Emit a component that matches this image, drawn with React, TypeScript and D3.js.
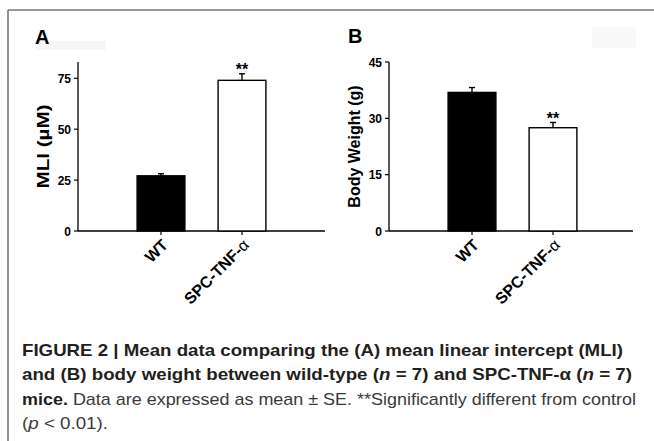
import React from 'react'
import * as d3 from 'd3'

const categories = ['WT', 'SPC-TNF-α']
const mliMeans = [27.1, 74.0]
const mliErrors = [1.0, 3.2]
const mliTicks = [0, 25, 50, 75]
const weightMeans = [36.9, 27.5]
const weightErrors = [1.3, 1.4]
const weightTicks = [0, 15, 30, 45]
const barFills = ['#000', '#fff']
const significant = [false, true]

const FONT = '"Liberation Sans", Arial, Helvetica, sans-serif'

type PanelProps = {
  left: number
  yLabel: string
  yLabelLength?: number
  means: number[]
  errors: number[]
  ticks: number[]
  yMax: number
  plotWidth: number
}

// category label: greek letter drawn in a lighter weight like the original
const catLabel = (c: string) => {
  if (!c.endsWith('α')) return c
  return <>{c.slice(0, -1)}<tspan fontWeight="normal">α</tspan></>
}

const Panel = ({ left, yLabel, yLabelLength, means, errors, ticks, yMax, plotWidth }: PanelProps) => {
  const top = 62
  const bottom = 231
  let y = d3.scaleLinear().domain([0, yMax]).range([bottom, top])
  let x = d3.scaleBand().domain(categories).range([42.5, 204.5]).paddingInner(0.41).paddingOuter(0.205)

  return (
    <g transform={`translate(${left},0)`}>
      <line x1={0} x2={0} y1={top} y2={bottom} stroke="#000" strokeWidth={1.3} />
      <line x1={0} x2={plotWidth} y1={bottom} y2={bottom} stroke="#000" strokeWidth={1.3} />
      {ticks.map(t => (
        <g key={t}>
          <line x1={-4} x2={0} y1={y(t)} y2={y(t)} stroke="#000" strokeWidth={1.2} />
          <text x={-7} y={y(t) + 4.5} textAnchor="end" fontSize={12} fontWeight="bold" fontFamily={FONT}>{t}</text>
        </g>
      ))}
      <text transform={`translate(-29,${(top + bottom) / 2}) rotate(-90)`} textAnchor="middle"
        fontSize={16} fontWeight="bold" fontFamily={FONT}
        textLength={yLabelLength} lengthAdjust={yLabelLength ? 'spacingAndGlyphs' : undefined}>{yLabel}</text>
      {categories.map((c, i) => {
        const bx = x(c) as number
        const cx = bx + x.bandwidth() / 2
        const errTop = y(means[i] + errors[i])
        return (
          <g key={c}>
            <rect x={bx} y={y(means[i])} width={x.bandwidth()} height={bottom - y(means[i])}
              fill={barFills[i]} stroke="#000" strokeWidth={1.4} />
            <line x1={cx} x2={cx} y1={y(means[i])} y2={errTop} stroke="#000" strokeWidth={1.4} />
            <line x1={cx - 3} x2={cx + 3} y1={errTop} y2={errTop} stroke="#000" strokeWidth={1.4} />
            {significant[i] && (
              <text x={cx} y={errTop + 1.5} textAnchor="middle" fontSize={16} fontWeight="bold" fontFamily={FONT}>**</text>
            )}
            <line x1={cx} x2={cx} y1={bottom} y2={bottom + 4} stroke="#000" strokeWidth={1.2} />
            <text transform={`translate(${cx + 8},${bottom + 15}) rotate(-45)`} textAnchor="end"
              fontSize={16} fontWeight="bold" fontFamily={FONT}>{catLabel(c)}</text>
          </g>
        )
      })}
    </g>
  )
}

const App = () => {
  return (
    <svg width={654} height={441} style={{ position: 'absolute', left: 0, top: 0, background: '#fff' }}>
      <rect x={0} y={0} width={654} height={441} fill="#fff" />
      <line x1={8} x2={654} y1={10} y2={10} stroke="#777" strokeWidth={1.6} />
      <line x1={8} x2={8} y1={10} y2={441} stroke="#777" strokeWidth={1.6} />

      <rect x={35} y={41} width={71} height={9} fill="#f6f6f6" />
      <rect x={592} y={27} width={44} height={21} fill="#f9f9f9" />
      <text x={35} y={44} fontSize={20} fontWeight="bold" fontFamily={FONT}>A</text>
      <text x={348} y={43} fontSize={20} fontWeight="bold" fontFamily={FONT}>B</text>

      <Panel left={78} yLabel="MLI (µM)" yLabelLength={84} means={mliMeans} errors={mliErrors}
        ticks={mliTicks} yMax={83} plotWidth={247} />
      <Panel left={389} yLabel="Body Weight (g)" means={weightMeans} errors={weightErrors}
        ticks={weightTicks} yMax={45} plotWidth={244} />

      <g fontFamily={FONT} fontSize={17} fill="#231f20">
        <text x={22} y={356} fontWeight="bold" textLength={601} lengthAdjust="spacingAndGlyphs">
          FIGURE 2 | Mean data comparing the (A) mean linear intercept (MLI)
        </text>
        <text x={22} y={380} fontWeight="bold" textLength={610} lengthAdjust="spacingAndGlyphs">
          and (B) body weight between wild-type (<tspan fontStyle="italic">n</tspan> = 7) and SPC-TNF-α (<tspan fontStyle="italic">n</tspan> = 7)
        </text>
        <text x={22} y={405} textLength={614} lengthAdjust="spacingAndGlyphs">
          <tspan fontWeight="bold">mice.</tspan><tspan fill="#3a3a3a"> Data are expressed as mean ± SE. **Significantly different from control</tspan>
        </text>
        <text x={22} y={429} fill="#3a3a3a" textLength={86} lengthAdjust="spacingAndGlyphs">
          (<tspan fontStyle="italic">p</tspan> &lt; 0.01).
        </text>
      </g>
    </svg>
  )
}

export default App
